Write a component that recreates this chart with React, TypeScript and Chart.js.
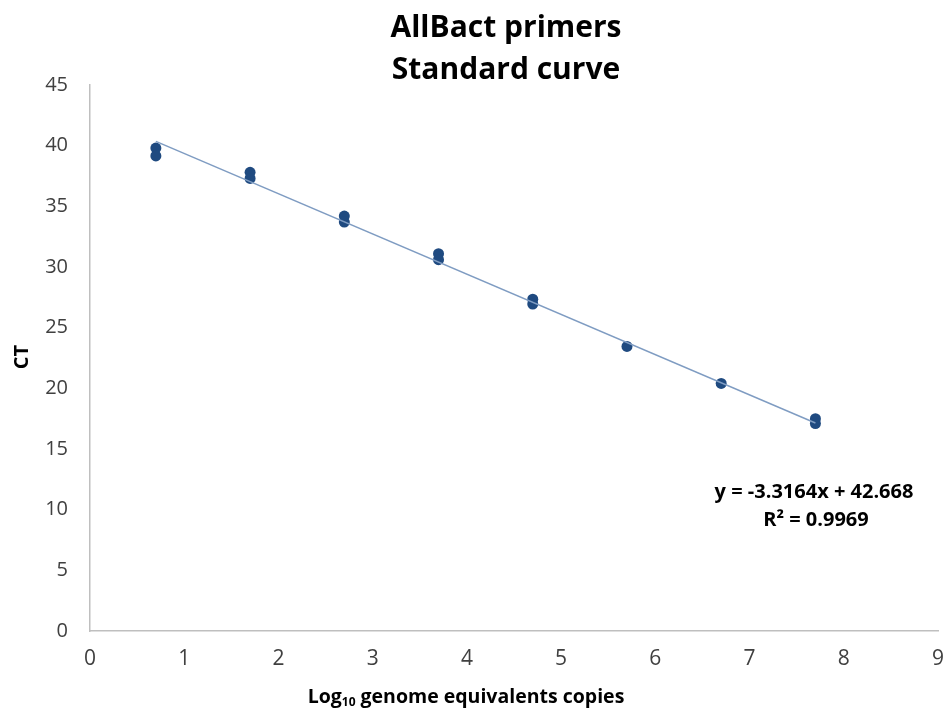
import React, { useEffect, useRef } from "react";
import { Chart, registerables } from "chart.js";

Chart.register(...registerables);

const titleLines = ["AllBact primers", "Standard curve"];
const xAxisTitle = { main: "Log", sub: "10", rest: " genome equivalents copies" };
const yAxisTitle = "CT";
const equationLines = ["y = -3.3164x + 42.668", "R² = 0.9969"];

const pointX = [0.699, 0.699, 1.699, 1.699, 2.699, 2.699, 3.699, 3.699, 4.699, 4.699, 5.699, 6.699, 7.699, 7.699];
const pointY = [39.8, 39.15, 37.8, 37.3, 34.2, 33.7, 31.1, 30.6, 27.35, 26.95, 23.45, 20.4, 17.5, 17.1];

const trendX = [0.699, 7.699];
const trendY = [40.35, 17.14];

const xTicksMin = 0;
const xTicksMax = 9;
const yTicksMin = 0;
const yTicksMax = 45;

const FONT = "'Open Sans', 'DejaVu Sans', sans-serif";

const textPlugin = {
  id: "textPlugin",
  afterDraw(chart: any) {
    const ctx = chart.ctx;
    ctx.save();
    ctx.fillStyle = "#000";
    ctx.textBaseline = "middle";
    ctx.textAlign = "center";
    // title
    ctx.font = `bold 30px ${FONT}`;
    ctx.fillText(titleLines[0], 506, 28);
    ctx.fillText(titleLines[1], 506, 70);
    // y title
    ctx.save();
    ctx.translate(22, 357);
    ctx.rotate(-Math.PI / 2);
    ctx.font = `bold 20px ${FONT}`;
    ctx.fillText(yAxisTitle, 0, 0);
    ctx.restore();
    // x title with subscript
    const mainFont = `bold 19.5px ${FONT}`;
    const subFont = `bold 12px ${FONT}`;
    ctx.font = mainFont;
    const w1 = ctx.measureText(xAxisTitle.main).width;
    const w3 = ctx.measureText(xAxisTitle.rest).width;
    ctx.font = subFont;
    const w2 = ctx.measureText(xAxisTitle.sub).width;
    const total = w1 + w2 + w3;
    let x = 466 - total / 2;
    ctx.textAlign = "left";
    ctx.font = mainFont;
    ctx.fillText(xAxisTitle.main, x, 697);
    x += w1;
    ctx.font = subFont;
    ctx.fillText(xAxisTitle.sub, x, 703);
    x += w2;
    ctx.font = mainFont;
    ctx.fillText(xAxisTitle.rest, x, 697);
    // equation
    ctx.textAlign = "center";
    ctx.font = `bold 20px ${FONT}`;
    ctx.fillText(equationLines[0], 814, 492);
    ctx.fillText(equationLines[1], 816, 520);
    ctx.restore();
  },
};

export default function App() {
  const ref = useRef<HTMLCanvasElement>(null);
  useEffect(() => {
    if (!ref.current) return;
    const chart = new Chart(ref.current, {
      type: "scatter",
      data: {
        datasets: [
          {
            type: "line",
            data: trendX.map((x, i) => ({ x, y: trendY[i] })),
            borderColor: "#7f9cc2",
            borderWidth: 1.5,
            pointRadius: 0,
            fill: false,
          } as any,
          {
            data: pointX.map((x, i) => ({ x, y: pointY[i] })),
            backgroundColor: "#1f4a80",
            borderColor: "#1f4a80",
            pointRadius: 5.5,
            pointBorderWidth: 0,
          },
        ],
      },
      plugins: [textPlugin],
      options: {
        animation: false,
        responsive: false,
        maintainAspectRatio: false,
        layout: { padding: { left: 0, top: 85, right: 9, bottom: 0 } },
        plugins: {
          legend: { display: false },
          title: { display: false },
          tooltip: { enabled: false },
        },
        scales: {
          x: {
            type: "linear",
            min: xTicksMin,
            max: xTicksMax,
            ticks: {
              stepSize: 1,
              padding: 15,
              color: "#404040",
              font: { family: "'Liberation Sans Narrow', 'Open Sans', sans-serif", size: 21 },
            },
            grid: { display: false, drawTicks: false },
            border: { display: true, color: "#bfbfbf", width: 1.5 },
            afterFit(scale: any) {
              scale.height = 84;
              scale.paddingRight = 0;
              scale.paddingLeft = 0;
            },
          },
          y: {
            type: "linear",
            min: yTicksMin,
            max: yTicksMax,
            ticks: {
              stepSize: 5,
              padding: 22,
              color: "#404040",
              font: { family: FONT, size: 20 },
            },
            grid: { display: false, drawTicks: false },
            border: { display: true, color: "#bfbfbf", width: 1.5 },
            afterFit(scale: any) {
              scale.width = 90;
              scale.paddingTop = 0;
              scale.paddingBottom = 0;
            },
          },
        },
      },
    });
    return () => chart.destroy();
  }, []);
  return (
    <div style={{ position: "absolute", left: 0, top: 0, width: 947, height: 715, background: "#fff" }}>
      <canvas ref={ref} width={947} height={715} style={{ width: 947, height: 715 }} />
    </div>
  );
}
